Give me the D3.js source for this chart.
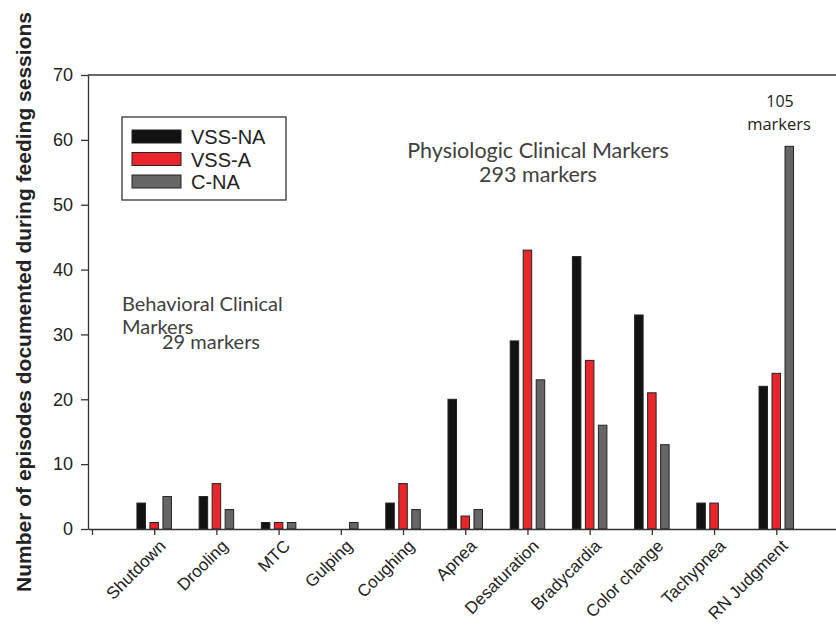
<!DOCTYPE html>
<html>
<head>
<meta charset="utf-8">
<script src="https://cdn.jsdelivr.net/npm/d3@7"></script>
<style>
    body { margin: 0; background: #fff; }
    svg text { font-family: "Liberation Sans", Arial, sans-serif; }
    .note { font-family: "Lato", "DejaVu Sans", sans-serif; fill: #404040; }
</style>
</head>
<body>
<div id="chart"></div>
<script>
// categories along the x axis (slot 0 is an empty tick)
const categories = ["Shutdown", "Drooling", "MTC", "Gulping", "Coughing", "Apnea",
    "Desaturation", "Bradycardia", "Color change", "Tachypnea", "RN Judgment"];
const seriesNames = ["VSS-NA", "VSS-A", "C-NA"];
const vssNA = [4, 5, 1, 0, 4, 20, 29, 42, 33, 4, 22];
const vssA = [1, 7, 1, 0, 7, 2, 43, 26, 21, 4, 24];
const cNA = [5, 3, 1, 1, 3, 3, 23, 16, 13, 0, 59];
const yTicks = [0, 10, 20, 30, 40, 50, 60, 70];
const seriesColors = ["#121212", "#e8262b", "#666666"];

let width = 836, height = 625;

let svg = d3.select("#chart").append("svg")
    .attr("width", width)
    .attr("height", height);

let x = d3.scaleLinear()
    .domain([-0.064, 11.96])
    .range([88, 836]);

let y = d3.scaleLinear()
    .domain([0, 70])
    .range([529, 75]);

// offset of each series inside a group
let sub = d3.scaleBand()
    .domain(seriesNames)
    .range([-19.5, 19.5])
    .paddingInner(0.346)
    .paddingOuter(0.173);

let rows = categories.map((c, i) => ({
    cat: c, idx: i + 1, values: [vssNA[i], vssA[i], cNA[i]]
}));

// top frame line
svg.append("line")
    .attr("x1", x.range()[0]).attr("x2", x.range()[1])
    .attr("y1", y(70)).attr("y2", y(70))
    .attr("stroke", "#333").attr("stroke-width", 1.3);

// bars
let groups = svg.selectAll(".grp")
    .data(rows)
    .enter().append("g")
    .attr("class", "grp")
    .attr("transform", d => "translate(" + x(d.idx) + ",0)");

groups.selectAll("rect")
    .data(d => d.values.map((v, k) => ({ name: seriesNames[k], k: k, v: v })))
    .enter().append("rect")
    .filter(d => d.v > 0)
    .attr("x", d => sub(d.name))
    .attr("y", d => y(d.v))
    .attr("width", sub.bandwidth())
    .attr("height", d => y(0) - y(d.v))
    .attr("fill", d => seriesColors[d.k])
    .attr("stroke", "#222")
    .attr("stroke-width", 1);

// y axis
let yAxis = svg.append("g")
    .attr("transform", "translate(" + x.range()[0] + ",0)")
    .call(d3.axisLeft(y).tickValues(yTicks).tickSize(7).tickPadding(8).tickSizeOuter(0));
yAxis.select(".domain").attr("stroke", "#333").attr("stroke-width", 1.3);
yAxis.selectAll(".tick line").attr("stroke", "#333").attr("stroke-width", 1.3);
yAxis.selectAll(".tick text").attr("font-size", 18).attr("fill", "#222");

// x axis
let xAxis = svg.append("g")
    .attr("transform", "translate(0," + y(0) + ")")
    .call(d3.axisBottom(x)
        .tickValues(d3.range(0, categories.length + 1))
        .tickFormat(i => i === 0 ? "" : categories[i - 1])
        .tickSize(6).tickSizeOuter(0));
xAxis.select(".domain").attr("stroke", "#333").attr("stroke-width", 1.3);
xAxis.selectAll(".tick line").attr("stroke", "#333").attr("stroke-width", 1.3);
xAxis.selectAll(".tick text")
    .attr("font-size", 17)
    .attr("fill", "#222")
    .attr("text-anchor", "end")
    .attr("transform", "translate(3,9) rotate(-45)")
    .attr("dy", "0.75em")
    .attr("y", 0);

// y axis title
svg.append("text")
    .attr("transform", "translate(31,302) rotate(-90)")
    .attr("text-anchor", "middle")
    .attr("font-size", 21)
    .attr("font-weight", "bold")
    .attr("fill", "#222")
    .text("Number of episodes documented during feeding sessions");

// legend
let legend = svg.append("g");
legend.append("rect")
    .attr("x", 122).attr("y", 117)
    .attr("width", 164).attr("height", 83)
    .attr("fill", "#fff").attr("stroke", "#333").attr("stroke-width", 1.3);
seriesNames.forEach((s, k) => {
    legend.append("rect")
        .attr("x", 132).attr("y", 130 + k * 22.5)
        .attr("width", 49).attr("height", 13)
        .attr("fill", seriesColors[k]).attr("stroke", "#222");
    legend.append("text")
        .attr("x", 191).attr("y", 144 + k * 22.5)
        .attr("font-size", 20)
        .attr("fill", "#222")
        .text(s);
});

// annotations
svg.append("text").attr("class", "note")
    .attr("x", 122).attr("y", 311).attr("font-size", 20)
    .text("Behavioral Clinical");
svg.append("text").attr("class", "note")
    .attr("x", 122).attr("y", 334).attr("font-size", 20)
    .text("Markers");
svg.append("text").attr("class", "note")
    .attr("x", 162).attr("y", 349).attr("font-size", 20)
    .text("29  markers");

svg.append("text").attr("class", "note")
    .attr("x", 538).attr("y", 158).attr("font-size", 21.5)
    .attr("text-anchor", "middle")
    .text("Physiologic Clinical Markers");
svg.append("text").attr("class", "note")
    .attr("x", 538).attr("y", 182).attr("font-size", 21.5)
    .attr("text-anchor", "middle")
    .text("293 markers");

svg.append("text")
    .attr("x", 780).attr("y", 107).attr("font-size", 16)
    .attr("text-anchor", "middle").attr("fill", "#222")
    .style("font-family", "'Open Sans', sans-serif")
    .text("105");
svg.append("text")
    .attr("x", 779).attr("y", 130).attr("font-size", 16.5)
    .attr("text-anchor", "middle").attr("fill", "#222")
    .style("font-family", "'Open Sans', sans-serif")
    .text("markers");
</script>
</body>
</html>
